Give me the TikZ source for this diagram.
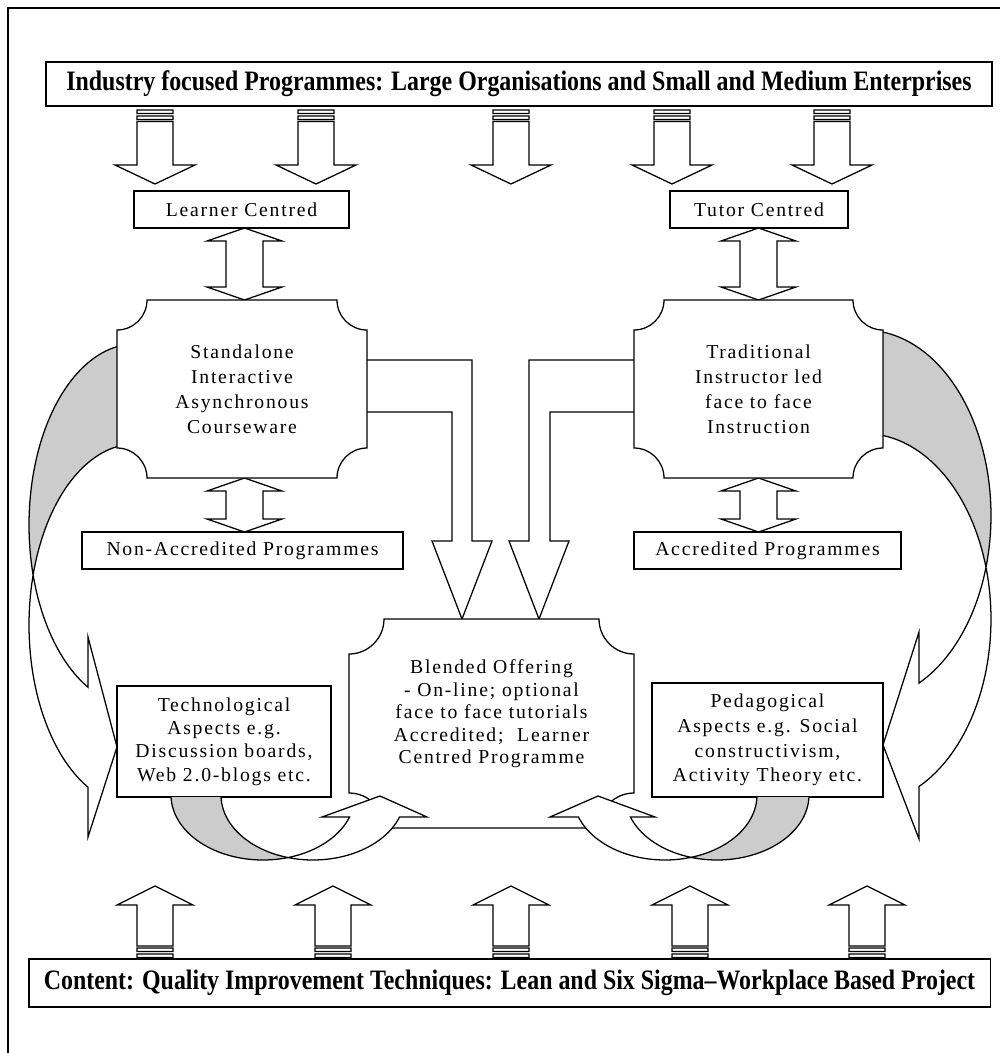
\documentclass[tikz,border=0pt]{standalone}
\usepackage{fontspec}
\usepackage{graphicx}
\setmainfont{Liberation Serif}[LetterSpace=9]
\newfontfamily\titlefont{Liberation Serif}
\definecolor{crescentgray}{RGB}{204,204,204}
\begin{document}
\begin{tikzpicture}[x=0.025cm, y=-0.025cm, line width=0.9pt, line join=miter,
  box/.style={draw, fill=white, inner sep=0pt, align=center, font=\fontsize{14}{16.5}\selectfont},
  bodytext/.style={inner sep=0pt, align=center, font=\fontsize{14}{17.8}\selectfont},
  bodytexts/.style={inner sep=0pt, align=center, font=\fontsize{14}{16}\selectfont},
  plaque/.style n args={5}{insert path={(#1+#5,#2) -- (#3-#5,#2) .. controls (#3-#5,#2+0.552*#5) and (#3-0.552*#5,#2+#5) .. (#3,#2+#5) -- (#3,#4-#5) .. controls (#3-0.552*#5,#4-#5) and (#3-#5,#4-0.552*#5) .. (#3-#5,#4) -- (#1+#5,#4) .. controls (#1+#5,#4-0.552*#5) and (#1+0.552*#5,#4-#5) .. (#1,#4-#5) -- (#1,#2+#5) .. controls (#1+0.552*#5,#2+#5) and (#1+#5,#2+0.552*#5) .. (#1+#5,#2) -- cycle}},
  darrow/.style={insert path={(#1-18,110) rectangle (#1+18,113.5) (#1-18,116) rectangle (#1+18,119.5) (#1-18,121.5) -- (#1+18,121.5) -- (#1+18,165) -- (#1+40,165) -- (#1,184) -- (#1-40,165) -- (#1-18,165) -- cycle}},
  uarrow/.style={insert path={(#1-18,954) rectangle (#1+18,957.5) (#1-18,948) rectangle (#1+18,951.5) (#1-18,946) -- (#1-18,905) -- (#1-38,905) -- (#1,886) -- (#1+38,905) -- (#1+18,905) -- (#1+18,946) -- cycle}},
  dbl/.style n args={3}{insert path={(#1,#2) -- (#1+37.5,#2+13) -- (#1+18.5,#2+13) -- (#1+18.5,#3-13) -- (#1+37.5,#3-13) -- (#1,#3) -- (#1-37.5,#3-13) -- (#1-18.5,#3-13) -- (#1-18.5,#2+13) -- (#1-37.5,#2+13) -- cycle}}
]
\useasboundingbox (0,0) rectangle (1000,1053);
% frame
\draw[line width=1.2pt] (8,1053) -- (8,8) -- (1000,8);

% top and bottom boxes
\node[box, minimum width=23.65cm, minimum height=1.1cm] (top) at (519,84)
  {\resizebox{22.625cm}{\height}{\titlefont\bfseries\fontsize{20}{24}\selectfont Industry focused Programmes: Large Organisations and Small and Medium Enterprises}};
\node[box, minimum width=24.025cm, minimum height=1.2cm] (content) at (509.5,983)
  {\resizebox{23.275cm}{\height}{\titlefont\bfseries\fontsize{20}{24}\selectfont Content: Quality Improvement Techniques: Lean and Six Sigma\textendash Workplace Based Project}};

% striped down arrows
\foreach \cx in {155,316,511,672,832} \filldraw[fill=white, darrow=\cx];
% striped up arrows
\foreach \cx in {155,333,511,690,867} \filldraw[fill=white, uarrow=\cx];

% upper boxes
\node[box, minimum width=5.375cm, minimum height=0.925cm] (learner) at (241.5,209.5) {Learner Centred};
\node[box, minimum width=4.45cm, minimum height=0.925cm] (tutor) at (759,209.5) {Tutor Centred};

% double arrows
\filldraw[fill=white, dbl={244.5}{228}{300}];
\filldraw[fill=white, dbl={758.5}{228}{300}];
\filldraw[fill=white, dbl={244.5}{478}{532}];
\filldraw[fill=white, dbl={758.5}{478}{532}];

% left side curved arrow
\fill[crescentgray] plot[domain=99.8:196, samples=40, variable=\t] ({135+106*cos(\t)},{525-181*sin(\t)})
  -- plot[domain=164:99.8, samples=40, variable=\t] ({135+106*cos(\t)},{625-181*sin(\t)}) -- cycle;
\draw plot[domain=99.8:243.7, samples=70, variable=\t] ({135+106*cos(\t)},{525-181*sin(\t)})
  -- (88,637) -- (117,747) -- (88,837)
  -- plot[domain=243.7:99.8, samples=70, variable=\t] ({135+106*cos(\t)},{625-181*sin(\t)});

% right side curved arrow
\fill[crescentgray] plot[domain=81.8:-16.2, samples=40, variable=\t] ({865+126*cos(\t)},{515.6-185.4*sin(\t)})
  -- plot[domain=16.2:81.8, samples=40, variable=\t] ({865+126*cos(\t)},{619-185.4*sin(\t)}) -- cycle;
\draw plot[domain=81.8:-64.6, samples=70, variable=\t] ({865+126*cos(\t)},{515.6-185.4*sin(\t)})
  -- (919,632) -- (883,745) -- (919,839)
  -- plot[domain=-64.6:81.8, samples=70, variable=\t] ({865+126*cos(\t)},{619-185.4*sin(\t)});

% bent arrows into blended offering
\filldraw[fill=white] (367,360) -- (472,360) -- (472,541) -- (492,541) -- (462,619) -- (432,541) -- (452,541) -- (452,412) -- (367,412);
\filldraw[fill=white] (634,360) -- (529,360) -- (529,541) -- (509,541) -- (539,619) -- (569,541) -- (550,541) -- (550,412) -- (634,412);

% plaque shapes
\filldraw[fill=white, plaque={117}{300}{367}{478}{30}];
\node[bodytext] (standalone) at (242,389) {Standalone\\Interactive\\Asynchronous\\Courseware};
\filldraw[fill=white, plaque={634}{300}{883}{478}{30}];
\node[bodytext] (traditional) at (758.5,389) {Traditional\\Instructor led\\face to face\\Instruction};
\filldraw[fill=white, plaque={349}{619}{634}{828}{35}];
\node[bodytexts] (blended) at (491.5,714) {Blended Offering\\- On-line; optional\\face to face tutorials\\Accredited;\hspace{0.7em}Learner\\Centred Programme};

% middle boxes
\node[box, minimum width=8.025cm, minimum height=0.925cm] (nonacc) at (242.5,550.5) {Non-Accredited Programmes};
\node[box, minimum width=6.675cm, minimum height=0.925cm] (acc) at (767.5,550.5) {Accredited Programmes};

% aspect boxes
\node[box, minimum width=5.35cm, minimum height=2.775cm] (tech) at (224,741.5) {Technological\\Aspects e.g.\\Discussion boards,\\Web 2.0-blogs etc.};
\node[box, minimum width=5.775cm, minimum height=2.85cm, font=\fontsize{14}{17.5}\selectfont] (ped) at (767.5,740) {Pedagogical\\Aspects e.g. Social\\constructivism,\\Activity Theory etc.};

% bottom-left curved arrow
\fill[crescentgray] plot[domain=181.8:285.8, samples=40, variable=\t] ({263+92*cos(\t)},{795-65*sin(\t)})
  -- plot[domain=254.2:181.8, samples=40, variable=\t] ({313+92*cos(\t)},{795-65*sin(\t)}) -- cycle;
\filldraw[fill=white] plot[domain=285.8:340.2, samples=30, variable=\t] ({263+92*cos(\t)},{795-65*sin(\t)})
  -- (322,817) -- (380,796) -- (427,817)
  -- plot[domain=340.2:254.2, samples=30, variable=\t] ({313+92*cos(\t)},{795-65*sin(\t)}) -- cycle;
\draw plot[domain=181.8:285.8, samples=40, variable=\t] ({263+92*cos(\t)},{795-65*sin(\t)});
\draw plot[domain=181.8:254.2, samples=40, variable=\t] ({313+92*cos(\t)},{795-65*sin(\t)});

% bottom-right curved arrow
\fill[crescentgray] plot[domain=181.8:285.8, samples=40, variable=\t] ({717-92*cos(\t)},{795-65*sin(\t)})
  -- plot[domain=254.2:181.8, samples=40, variable=\t] ({665-92*cos(\t)},{795-65*sin(\t)}) -- cycle;
\filldraw[fill=white] plot[domain=285.8:340.2, samples=30, variable=\t] ({717-92*cos(\t)},{795-65*sin(\t)})
  -- (655,817) -- (598,796) -- (550,817)
  -- plot[domain=340.2:254.2, samples=30, variable=\t] ({665-92*cos(\t)},{795-65*sin(\t)}) -- cycle;
\draw plot[domain=181.8:285.8, samples=40, variable=\t] ({717-92*cos(\t)},{795-65*sin(\t)});
\draw plot[domain=181.8:254.2, samples=40, variable=\t] ({665-92*cos(\t)},{795-65*sin(\t)});
\end{tikzpicture}
\end{document}
